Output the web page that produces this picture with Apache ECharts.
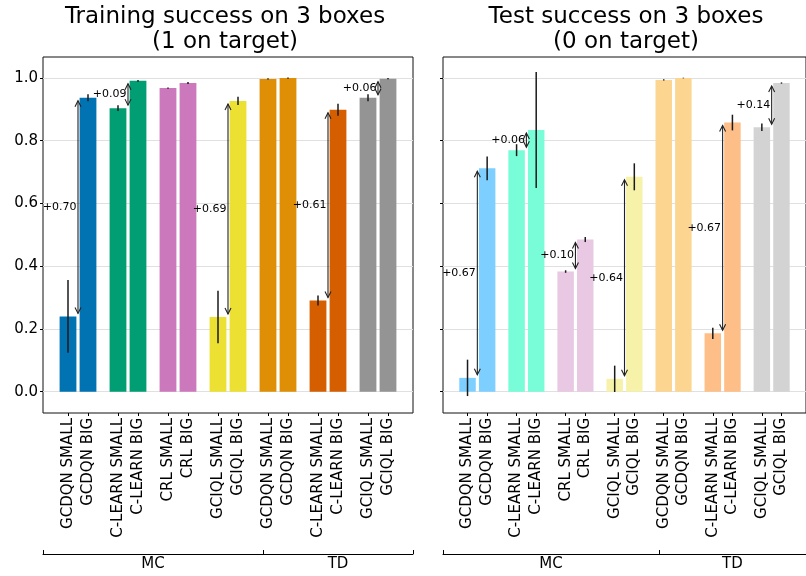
<!DOCTYPE html>
<html>
<head>
<meta charset="utf-8">
<script src="https://cdn.jsdelivr.net/npm/echarts@6.0.0/dist/echarts.min.js"></script>
<style>
  html, body { margin: 0; padding: 0; background: #fff; }
  #chart { width: 806px; height: 576px; }
</style>
</head>
<body>
<div id="chart"></div>
<script>
// Bar labels, left to right; first four pairs are MC, last three pairs are TD
const methods = [
  'GCDQN SMALL', 'GCDQN BIG', 'C-LEARN SMALL', 'C-LEARN BIG',
  'CRL SMALL', 'CRL BIG', 'GCIQL SMALL', 'GCIQL BIG',
  'GCDQN SMALL', 'GCDQN BIG', 'C-LEARN SMALL', 'C-LEARN BIG',
  'GCIQL SMALL', 'GCIQL BIG'
];
const groups = ['MC', 'TD'];
const pairsPerGroup = [4, 3];

// Training success (1 on target): mean and spread
const trainMean = [0.240, 0.937, 0.904, 0.991, 0.968, 0.984, 0.238, 0.927,
                   0.997, 1.000, 0.291, 0.899, 0.937, 0.998];
const trainErr  = [0.116, 0.011, 0.009, 0.003, 0.002, 0.003, 0.084, 0.013,
                   0.002, 0.002, 0.016, 0.019, 0.011, 0.002];

// Test success (0 on target): mean and spread
const testMean = [0.044, 0.712, 0.770, 0.834, 0.383, 0.485, 0.041, 0.685,
                  0.994, 1.000, 0.186, 0.858, 0.843, 0.984];
const testErr  = [0.058, 0.038, 0.019, 0.185, 0.004, 0.008, 0.042, 0.043,
                  0.002, 0.001, 0.018, 0.025, 0.012, 0.002];

const yTicks = [0, 0.2, 0.4, 0.6, 0.8, 1.0];

// Palettes (one colour per method pair)
const trainColors = ['#0173b2', '#029e73', '#cc78bc', '#ece133', '#de8f05', '#d55e00', '#949494'];
const testColors  = ['#7dcfff', '#79fdd8', '#e8c8e2', '#f6f2aa', '#fcd590', '#febe87', '#d3d3d3'];

// Slot layout: each pair takes two unit slots, pairs separated by half a slot
const slotX = methods.map((_, i) => 2.5 * Math.floor(i / 2) + (i % 2));
const X_MIN = -1.25, X_MAX = slotX[slotX.length - 1] + 1.25;
const groupSplit = slotX[pairsPerGroup[0] * 2] - 0.25;
const groupEdges = [X_MIN, groupSplit, X_MAX];
const groupCenters = [(X_MIN + groupSplit) / 2, (groupSplit + X_MAX) / 2];
const BAR_HALF = 0.42;
const FONT = 'DejaVu Sans';

function labelFor(v) {
  let best = 0, d = Infinity;
  slotX.forEach((x, i) => { const dd = Math.abs(x - v); if (dd < d) { d = dd; best = i; } });
  return d < 0.01 ? methods[best] : '';
}

function barData(mean, err, palette) {
  return mean.map((m, i) => ({
    value: [slotX[i], m, err[i]],
    itemStyle: { color: palette[Math.floor(i / 2)] }
  }));
}

// Pairs whose BIG variant improves noticeably over SMALL get an arrow
function gainData(mean) {
  const out = [];
  for (let i = 0; i < mean.length; i += 2) {
    const a = mean[i], b = mean[i + 1];
    if (Math.abs(b - a) >= 0.05) out.push([slotX[i] + 0.5, a, b]);
  }
  return out;
}

function renderBar(params, api) {
  const x = api.value(0), v = api.value(1), e = api.value(2);
  const p0 = api.coord([x - BAR_HALF, v]);
  const p1 = api.coord([x + BAR_HALF, 0]);
  const t = api.coord([x, v + e]);
  const b = api.coord([x, v - e]);
  return {
    type: 'group',
    children: [
      { type: 'rect',
        shape: { x: p0[0], y: p0[1], width: p1[0] - p0[0], height: p1[1] - p0[1] },
        style: { fill: api.visual('color') } },
      { type: 'line',
        shape: { x1: t[0], y1: t[1], x2: b[0], y2: b[1] },
        style: { stroke: '#1a1a1a', lineWidth: 1.5 } }
    ]
  };
}

function renderGain(params, api) {
  const x = api.value(0), a = api.value(1), b = api.value(2);
  const pa = api.coord([x, a]);
  const pb = api.coord([x, b]);
  const topY = Math.min(pa[1], pb[1]) + 3;
  const botY = Math.max(pa[1], pb[1]) - 3;
  const cx = pa[0];
  const hw = 3, hl = 6;
  const stroke = { stroke: '#222', lineWidth: 1.1, fill: null };
  const mid = api.coord([x, (a + b) / 2]);
  return {
    type: 'group',
    children: [
      { type: 'line', shape: { x1: cx, y1: topY, x2: cx, y2: botY }, style: stroke },
      { type: 'polyline', shape: { points: [[cx - hw, topY + hl], [cx, topY], [cx + hw, topY + hl]] }, style: stroke },
      { type: 'polyline', shape: { points: [[cx - hw, botY - hl], [cx, botY], [cx + hw, botY - hl]] }, style: stroke },
      { type: 'text',
        style: { text: '+' + (b - a).toFixed(2), x: cx - 1.5, y: mid[1],
                 align: 'right', verticalAlign: 'middle',
                 fontSize: 11, fontFamily: FONT, fill: '#000' } }
    ]
  };
}

function mainXAxis(gridIndex) {
  return {
    type: 'value', gridIndex, min: X_MIN, max: X_MAX, position: 'bottom',
    axisLine: { show: false, onZero: false },
    splitLine: { show: false },
    axisTick: { show: true, customValues: slotX, length: 3,
                lineStyle: { color: '#000', width: 1 } },
    axisLabel: { customValues: slotX, rotate: 90, margin: 5, fontSize: 15,
                 fontFamily: FONT, color: '#000', formatter: labelFor }
  };
}

function groupXAxis(gridIndex) {
  return {
    type: 'value', gridIndex, min: X_MIN, max: X_MAX, position: 'bottom', offset: 141,
    axisLine: { show: true, onZero: false, lineStyle: { color: '#000', width: 1 } },
    splitLine: { show: false },
    axisTick: { show: true, customValues: groupEdges, inside: true, length: 4,
                lineStyle: { color: '#000', width: 1 } },
    axisLabel: { customValues: groupCenters, margin: 3, fontSize: 15, fontFamily: FONT,
                 color: '#000',
                 formatter: v => (v < groupSplit ? groups[0] : groups[1]) }
  };
}

function yAxis(gridIndex, showLabels) {
  return {
    type: 'value', gridIndex, min: -0.068, max: 1.067, position: 'left',
    axisLine: { show: false, onZero: false },
    axisTick: { show: true, customValues: yTicks, length: 3,
                lineStyle: { color: '#000', width: 1 } },
    axisLabel: { show: showLabels, customValues: yTicks, margin: 5, fontSize: 15,
                 fontFamily: FONT, color: '#000', formatter: v => v.toFixed(1) },
    splitLine: { show: true, lineStyle: { color: '#e0e0e0', width: 1 } }
  };
}

const chart = echarts.init(document.getElementById('chart'), null, { renderer: 'canvas' });

chart.setOption({
  animation: false,
  backgroundColor: '#fff',
  textStyle: { fontFamily: FONT },
  title: [
    { text: 'Training success on 3 boxes\n(1 on target)', left: 225, top: 5, padding: 0,
      textAlign: 'center',
      textStyle: { fontSize: 23, fontWeight: 'normal', color: '#000', lineHeight: 25, fontFamily: FONT } },
    { text: 'Test success on 3 boxes\n(0 on target)', left: 626, top: 5, padding: 0,
      textAlign: 'center',
      textStyle: { fontSize: 23, fontWeight: 'normal', color: '#000', lineHeight: 25, fontFamily: FONT } }
  ],
  grid: [
    { left: 43, top: 57, width: 370, height: 356, show: true, borderColor: '#111', borderWidth: 1, backgroundColor: 'transparent' },
    { left: 443, top: 57, width: 371, height: 356, show: true, borderColor: '#111', borderWidth: 1, backgroundColor: 'transparent' }
  ],
  xAxis: [mainXAxis(0), groupXAxis(0), mainXAxis(1), groupXAxis(1)],
  yAxis: [yAxis(0, true), yAxis(1, false)],
  series: [
    { type: 'custom', xAxisIndex: 0, yAxisIndex: 0, renderItem: renderBar,
      encode: { x: 0, y: 1 }, data: barData(trainMean, trainErr, trainColors), z: 2 },
    { type: 'custom', xAxisIndex: 0, yAxisIndex: 0, renderItem: renderGain,
      encode: { x: 0, y: [1, 2] }, data: gainData(trainMean), z: 3 },
    { type: 'custom', xAxisIndex: 2, yAxisIndex: 1, renderItem: renderBar,
      encode: { x: 0, y: 1 }, data: barData(testMean, testErr, testColors), z: 2 },
    { type: 'custom', xAxisIndex: 2, yAxisIndex: 1, renderItem: renderGain,
      encode: { x: 0, y: [1, 2] }, data: gainData(testMean), z: 3 }
  ]
});
</script>
</body>
</html>
